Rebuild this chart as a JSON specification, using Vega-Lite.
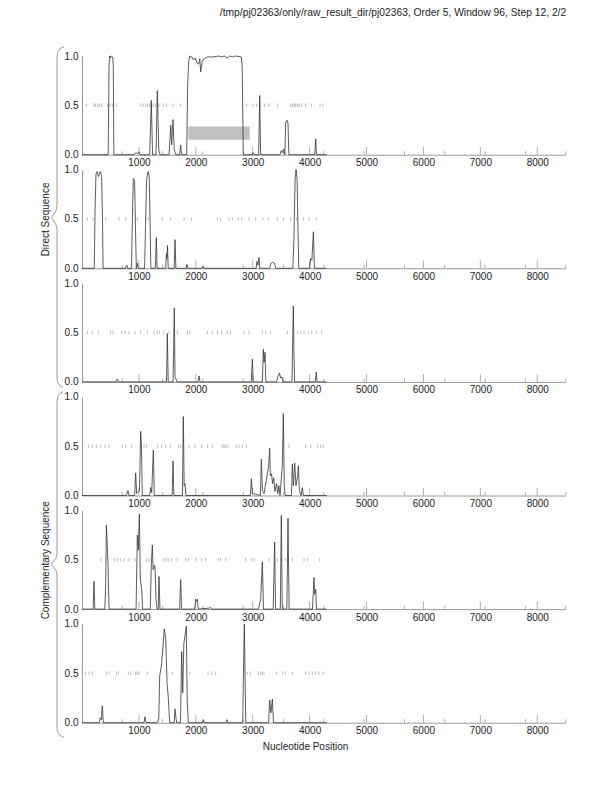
{
"$schema": "https://vega.github.io/schema/vega-lite/v6.json",
"padding": {"left": 40, "top": 8, "right": 5, "bottom": 5},
"title": {"text": "/tmp/pj02363/only/raw_result_dir/pj02363, Order 5, Window 96, Step 12, 2/2", "anchor": "end", "fontSize": 10.3, "fontWeight": "normal", "font": "Liberation Sans", "color": "#222", "offset": 26, "dx": 0},
"config": {"view": {"stroke": null}, "font": "Liberation Sans",
  "axis": {"labelFont": "Liberation Sans", "labelFontSize": 10, "labelColor": "#222", "domainColor": "#999", "ticks": false, "grid": false, "titleFont": "Liberation Sans", "titleFontSize": 10, "titleFontWeight": "normal", "titleColor": "#222"},
  "axisX": {"labelPadding": 3},
  "axisY": {"labelPadding": 4}},
"bounds": "flush",
"spacing": 14.6,
"datasets": {
"tickData": [{"x":1000,"h":0.078},{"x":2000,"h":0.078},{"x":3000,"h":0.078},{"x":4000,"h":0.078},{"x":5000,"h":0.078},{"x":6000,"h":0.078},{"x":7000,"h":0.078},{"x":8000,"h":0.078},
 {"x":708,"h":0.035},{"x":1417,"h":0.035},{"x":2125,"h":0.035},{"x":2833,"h":0.035},{"x":3542,"h":0.035},{"x":4250,"h":0.035},{"x":4958,"h":0.035},{"x":5667,"h":0.035},{"x":6375,"h":0.035},{"x":7083,"h":0.035},{"x":7792,"h":0.035},{"x":8500,"h":0.035}],
"boxData": [{"p":1,"x":1868,"x2":2947,"y":0.152,"y2":0.287}],
"braceData": [
 {"p":2,"o":1,"x":-316,"y":2.245},{"p":2,"o":2,"x":-387,"y":2.226},{"p":2,"o":3,"x":-422,"y":2.196},{"p":2,"o":4,"x":-439,"y":2.145},{"p":2,"o":5,"x":-439,"y":0.636},{"p":2,"o":6,"x":-457,"y":0.585},{"p":2,"o":7,"x":-510,"y":0.534},{"p":2,"o":8,"x":-545,"y":0.514},{"p":2,"o":9,"x":-510,"y":0.493},{"p":2,"o":10,"x":-457,"y":0.443},{"p":2,"o":11,"x":-439,"y":0.392},{"p":2,"o":12,"x":-439,"y":-1.118},{"p":2,"o":13,"x":-422,"y":-1.158},{"p":2,"o":14,"x":-387,"y":-1.189},{"p":2,"o":15,"x":-334,"y":-1.209},
 {"p":5,"o":1,"x":-334,"y":2.205},{"p":5,"o":2,"x":-387,"y":2.185},{"p":5,"o":3,"x":-422,"y":2.155},{"p":5,"o":4,"x":-439,"y":2.104},{"p":5,"o":5,"x":-439,"y":0.564},{"p":5,"o":6,"x":-457,"y":0.514},{"p":5,"o":7,"x":-510,"y":0.473},{"p":5,"o":8,"x":-545,"y":0.453},{"p":5,"o":9,"x":-510,"y":0.433},{"p":5,"o":10,"x":-457,"y":0.392},{"p":5,"o":11,"x":-439,"y":0.341},{"p":5,"o":12,"x":-439,"y":-1.209},{"p":5,"o":13,"x":-422,"y":-1.25},{"p":5,"o":14,"x":-387,"y":-1.28},{"p":5,"o":15,"x":-316,"y":-1.3}],
"stopData": [
 {"p":1,"x":76},{"p":1,"x":211},{"p":1,"x":240},{"p":1,"x":281},{"p":1,"x":310},{"p":1,"x":346},{"p":1,"x":451},{"p":1,"x":492},{"p":1,"x":533},{"p":1,"x":603},{"p":1,"x":1031},{"p":1,"x":1072},{"p":1,"x":1119},{"p":1,"x":1154},{"p":1,"x":1189},{"p":1,"x":1248},{"p":1,"x":1295},{"p":1,"x":1353},{"p":1,"x":1429},{"p":1,"x":1482},{"p":1,"x":1599},{"p":1,"x":1734},{"p":1,"x":2888},{"p":1,"x":3005},{"p":1,"x":3070},{"p":1,"x":3128},{"p":1,"x":3205},{"p":1,"x":3287},{"p":1,"x":3433},{"p":1,"x":3667},{"p":1,"x":3697},{"p":1,"x":3726},{"p":1,"x":3755},{"p":1,"x":3785},{"p":1,"x":3814},{"p":1,"x":3861},{"p":1,"x":3931},{"p":1,"x":4031},{"p":1,"x":4183},{"p":1,"x":4236},
 {"p":2,"x":94},{"p":2,"x":193},{"p":2,"x":416},{"p":2,"x":650},{"p":2,"x":767},{"p":2,"x":972},{"p":2,"x":1160},{"p":2,"x":1412},{"p":2,"x":1558},{"p":2,"x":1793},{"p":2,"x":1927},{"p":2,"x":2379},{"p":2,"x":2437},{"p":2,"x":2584},{"p":2,"x":2642},{"p":2,"x":2748},{"p":2,"x":2806},{"p":2,"x":2935},{"p":2,"x":3052},{"p":2,"x":3181},{"p":2,"x":3275},{"p":2,"x":3433},{"p":2,"x":3538},{"p":2,"x":3667},{"p":2,"x":3773},{"p":2,"x":3890},{"p":2,"x":3990},{"p":2,"x":4118},
 {"p":3,"x":94},{"p":3,"x":182},{"p":3,"x":287},{"p":3,"x":504},{"p":3,"x":545},{"p":3,"x":697},{"p":3,"x":756},{"p":3,"x":826},{"p":3,"x":931},{"p":3,"x":1031},{"p":3,"x":1148},{"p":3,"x":1265},{"p":3,"x":1324},{"p":3,"x":1365},{"p":3,"x":1441},{"p":3,"x":1529},{"p":3,"x":1675},{"p":3,"x":1851},{"p":3,"x":1892},{"p":3,"x":2203},{"p":3,"x":2291},{"p":3,"x":2379},{"p":3,"x":2455},{"p":3,"x":2554},{"p":3,"x":2613},{"p":3,"x":2847},{"p":3,"x":2935},{"p":3,"x":3169},{"p":3,"x":3228},{"p":3,"x":3316},{"p":3,"x":3609},{"p":3,"x":3784},{"p":3,"x":3843},{"p":3,"x":3902},{"p":3,"x":3978},{"p":3,"x":4036},{"p":3,"x":4118},{"p":3,"x":4212},
 {"p":4,"x":111},{"p":4,"x":182},{"p":4,"x":252},{"p":4,"x":328},{"p":4,"x":404},{"p":4,"x":475},{"p":4,"x":709},{"p":4,"x":767},{"p":4,"x":873},{"p":4,"x":1090},{"p":4,"x":1131},{"p":4,"x":1324},{"p":4,"x":1400},{"p":4,"x":1470},{"p":4,"x":1558},{"p":4,"x":1693},{"p":4,"x":1734},{"p":4,"x":1881},{"p":4,"x":1986},{"p":4,"x":2103},{"p":4,"x":2203},{"p":4,"x":2291},{"p":4,"x":2466},{"p":4,"x":2496},{"p":4,"x":2525},{"p":4,"x":2566},{"p":4,"x":2712},{"p":4,"x":2759},{"p":4,"x":2818},{"p":4,"x":2888},{"p":4,"x":3638},{"p":4,"x":3931},{"p":4,"x":4019},{"p":4,"x":4136},{"p":4,"x":4195},{"p":4,"x":4236},
 {"p":5,"x":328},{"p":5,"x":562},{"p":5,"x":621},{"p":5,"x":680},{"p":5,"x":738},{"p":5,"x":814},{"p":5,"x":931},{"p":5,"x":1131},{"p":5,"x":1178},{"p":5,"x":1441},{"p":5,"x":1482},{"p":5,"x":1517},{"p":5,"x":1576},{"p":5,"x":1675},{"p":5,"x":1822},{"p":5,"x":1869},{"p":5,"x":1998},{"p":5,"x":2103},{"p":5,"x":2173},{"p":5,"x":2396},{"p":5,"x":2437},{"p":5,"x":2525},{"p":5,"x":2876},{"p":5,"x":2982},{"p":5,"x":3023},{"p":5,"x":3287},{"p":5,"x":3433},{"p":5,"x":3509},{"p":5,"x":3579},{"p":5,"x":3697},{"p":5,"x":3902},{"p":5,"x":3960},{"p":5,"x":4177},
 {"p":6,"x":64},{"p":6,"x":123},{"p":6,"x":182},{"p":6,"x":428},{"p":6,"x":475},{"p":6,"x":603},{"p":6,"x":639},{"p":6,"x":814},{"p":6,"x":855},{"p":6,"x":943},{"p":6,"x":972},{"p":6,"x":1002},{"p":6,"x":1148},{"p":6,"x":1588},{"p":6,"x":1892},{"p":6,"x":2214},{"p":6,"x":2279},{"p":6,"x":2349},{"p":6,"x":2906},{"p":6,"x":2964},{"p":6,"x":3099},{"p":6,"x":3140},{"p":6,"x":3169},{"p":6,"x":3199},{"p":6,"x":3421},{"p":6,"x":3521},{"p":6,"x":3568},{"p":6,"x":3697},{"p":6,"x":3931},{"p":6,"x":3990},{"p":6,"x":4048},{"p":6,"x":4107},{"p":6,"x":4165},{"p":6,"x":4236}],
"curveData": [
 {"p":1,"x":0,"y":0},{"p":1,"x":460,"y":0},{"p":1,"x":475,"y":0.9},{"p":1,"x":485,"y":1.0},{"p":1,"x":500,"y":0.98},{"p":1,"x":515,"y":1.0},{"p":1,"x":540,"y":0.99},{"p":1,"x":550,"y":0.9},{"p":1,"x":560,"y":0},{"p":1,"x":900,"y":0},{"p":1,"x":950,"y":0.02},{"p":1,"x":980,"y":0.01},{"p":1,"x":1000,"y":0.03},{"p":1,"x":1020,"y":0},{"p":1,"x":1190,"y":0},{"p":1,"x":1218,"y":0.55},{"p":1,"x":1240,"y":0},{"p":1,"x":1300,"y":0},{"p":1,"x":1324,"y":0.65},{"p":1,"x":1350,"y":0.05},{"p":1,"x":1370,"y":0},{"p":1,"x":1530,"y":0},{"p":1,"x":1559,"y":0.3},{"p":1,"x":1575,"y":0.1},{"p":1,"x":1599,"y":0.355},{"p":1,"x":1620,"y":0.05},{"p":1,"x":1650,"y":0},{"p":1,"x":1715,"y":0},{"p":1,"x":1734,"y":0.1},{"p":1,"x":1750,"y":0},{"p":1,"x":1840,"y":0},{"p":1,"x":1857,"y":0.7},{"p":1,"x":1875,"y":0.95},{"p":1,"x":1893,"y":1.0},{"p":1,"x":1930,"y":0.99},{"p":1,"x":1960,"y":0.96},{"p":1,"x":1990,"y":0.98},{"p":1,"x":2020,"y":0.93},{"p":1,"x":2050,"y":0.92},{"p":1,"x":2070,"y":0.97},{"p":1,"x":2086,"y":0.84},{"p":1,"x":2100,"y":0.9},{"p":1,"x":2115,"y":0.95},{"p":1,"x":2140,"y":0.97},{"p":1,"x":2200,"y":0.99},{"p":1,"x":2300,"y":0.99},{"p":1,"x":2400,"y":1.0},{"p":1,"x":2450,"y":0.99},{"p":1,"x":2500,"y":1.0},{"p":1,"x":2550,"y":0.98},{"p":1,"x":2600,"y":1.0},{"p":1,"x":2650,"y":0.99},{"p":1,"x":2700,"y":1.0},{"p":1,"x":2800,"y":0.99},{"p":1,"x":2815,"y":0.9},{"p":1,"x":2835,"y":0},{"p":1,"x":2990,"y":0},{"p":1,"x":3005,"y":0.02},{"p":1,"x":3020,"y":0},{"p":1,"x":3105,"y":0},{"p":1,"x":3123,"y":0.6},{"p":1,"x":3140,"y":0},{"p":1,"x":3480,"y":0},{"p":1,"x":3500,"y":0.04},{"p":1,"x":3520,"y":0.02},{"p":1,"x":3545,"y":0.06},{"p":1,"x":3565,"y":0},{"p":1,"x":3580,"y":0.33},{"p":1,"x":3600,"y":0.35},{"p":1,"x":3620,"y":0.32},{"p":1,"x":3635,"y":0},{"p":1,"x":4090,"y":0},{"p":1,"x":4107,"y":0.16},{"p":1,"x":4120,"y":0},{"p":1,"x":4300,"y":0},
 {"p":2,"x":0,"y":0},{"p":2,"x":215,"y":0},{"p":2,"x":230,"y":0.6},{"p":2,"x":245,"y":0.95},{"p":2,"x":265,"y":0.98},{"p":2,"x":290,"y":0.93},{"p":2,"x":320,"y":0.98},{"p":2,"x":345,"y":0.94},{"p":2,"x":360,"y":0.5},{"p":2,"x":370,"y":0},{"p":2,"x":760,"y":0},{"p":2,"x":775,"y":0.02},{"p":2,"x":790,"y":0.03},{"p":2,"x":805,"y":0},{"p":2,"x":870,"y":0},{"p":2,"x":885,"y":0.5},{"p":2,"x":902,"y":0.91},{"p":2,"x":925,"y":0.88},{"p":2,"x":940,"y":0.4},{"p":2,"x":955,"y":0},{"p":2,"x":975,"y":0.05},{"p":2,"x":990,"y":0},{"p":2,"x":1100,"y":0},{"p":2,"x":1115,"y":0.4},{"p":2,"x":1135,"y":0.9},{"p":2,"x":1160,"y":0.98},{"p":2,"x":1180,"y":0.94},{"p":2,"x":1195,"y":0.5},{"p":2,"x":1210,"y":0},{"p":2,"x":1290,"y":0},{"p":2,"x":1306,"y":0.31},{"p":2,"x":1320,"y":0},{"p":2,"x":1470,"y":0},{"p":2,"x":1485,"y":0.15},{"p":2,"x":1492,"y":0.1},{"p":2,"x":1503,"y":0.23},{"p":2,"x":1515,"y":0},{"p":2,"x":1620,"y":0},{"p":2,"x":1635,"y":0.29},{"p":2,"x":1650,"y":0},{"p":2,"x":1830,"y":0},{"p":2,"x":1845,"y":0.04},{"p":2,"x":1860,"y":0},{"p":2,"x":2110,"y":0},{"p":2,"x":2125,"y":0.02},{"p":2,"x":2140,"y":0},{"p":2,"x":3060,"y":0},{"p":2,"x":3075,"y":0.07},{"p":2,"x":3090,"y":0.03},{"p":2,"x":3111,"y":0.11},{"p":2,"x":3125,"y":0},{"p":2,"x":3300,"y":0},{"p":2,"x":3316,"y":0.05},{"p":2,"x":3350,"y":0.06},{"p":2,"x":3385,"y":0.05},{"p":2,"x":3404,"y":0},{"p":2,"x":3705,"y":0},{"p":2,"x":3725,"y":0.3},{"p":2,"x":3745,"y":0.9},{"p":2,"x":3762,"y":1.0},{"p":2,"x":3780,"y":0.9},{"p":2,"x":3795,"y":0.4},{"p":2,"x":3810,"y":0},{"p":2,"x":4000,"y":0},{"p":2,"x":4019,"y":0.1},{"p":2,"x":4040,"y":0.08},{"p":2,"x":4066,"y":0.37},{"p":2,"x":4085,"y":0},{"p":2,"x":4300,"y":0},
 {"p":3,"x":0,"y":0},{"p":3,"x":600,"y":0},{"p":3,"x":621,"y":0.03},{"p":3,"x":640,"y":0},{"p":3,"x":1485,"y":0},{"p":3,"x":1500,"y":0.49},{"p":3,"x":1515,"y":0},{"p":3,"x":1600,"y":0},{"p":3,"x":1610,"y":0.33},{"p":3,"x":1622,"y":0.75},{"p":3,"x":1635,"y":0.05},{"p":3,"x":1650,"y":0.03},{"p":3,"x":1670,"y":0},{"p":3,"x":2040,"y":0},{"p":3,"x":2056,"y":0.06},{"p":3,"x":2075,"y":0},{"p":3,"x":2975,"y":0},{"p":3,"x":2994,"y":0.23},{"p":3,"x":3010,"y":0},{"p":3,"x":3170,"y":0},{"p":3,"x":3187,"y":0.33},{"p":3,"x":3200,"y":0.2},{"p":3,"x":3216,"y":0.3},{"p":3,"x":3230,"y":0},{"p":3,"x":3420,"y":0},{"p":3,"x":3440,"y":0.05},{"p":3,"x":3470,"y":0.09},{"p":3,"x":3490,"y":0.04},{"p":3,"x":3515,"y":0.05},{"p":3,"x":3530,"y":0},{"p":3,"x":3690,"y":0},{"p":3,"x":3705,"y":0.5},{"p":3,"x":3714,"y":0.77},{"p":3,"x":3725,"y":0.3},{"p":3,"x":3735,"y":0},{"p":3,"x":4100,"y":0},{"p":3,"x":4118,"y":0.1},{"p":3,"x":4130,"y":0},{"p":3,"x":4300,"y":0},
 {"p":4,"x":0,"y":0},{"p":4,"x":780,"y":0},{"p":4,"x":808,"y":0.05},{"p":4,"x":825,"y":0},{"p":4,"x":925,"y":0},{"p":4,"x":943,"y":0.23},{"p":4,"x":960,"y":0.02},{"p":4,"x":1010,"y":0.05},{"p":4,"x":1031,"y":0.65},{"p":4,"x":1045,"y":0.5},{"p":4,"x":1060,"y":0},{"p":4,"x":1190,"y":0},{"p":4,"x":1207,"y":0.08},{"p":4,"x":1225,"y":0.03},{"p":4,"x":1254,"y":0.46},{"p":4,"x":1270,"y":0},{"p":4,"x":1585,"y":0},{"p":4,"x":1599,"y":0.35},{"p":4,"x":1615,"y":0},{"p":4,"x":1765,"y":0},{"p":4,"x":1781,"y":0.8},{"p":4,"x":1795,"y":0.1},{"p":4,"x":1810,"y":0.12},{"p":4,"x":1825,"y":0},{"p":4,"x":2960,"y":0},{"p":4,"x":2976,"y":0.17},{"p":4,"x":2995,"y":0.02},{"p":4,"x":3135,"y":0},{"p":4,"x":3152,"y":0.37},{"p":4,"x":3170,"y":0.05},{"p":4,"x":3200,"y":0.02},{"p":4,"x":3280,"y":0.3},{"p":4,"x":3298,"y":0.48},{"p":4,"x":3310,"y":0.2},{"p":4,"x":3330,"y":0.22},{"p":4,"x":3350,"y":0.12},{"p":4,"x":3370,"y":0.18},{"p":4,"x":3390,"y":0.04},{"p":4,"x":3420,"y":0.12},{"p":4,"x":3440,"y":0.02},{"p":4,"x":3460,"y":0.1},{"p":4,"x":3480,"y":0},{"p":4,"x":3520,"y":0.3},{"p":4,"x":3538,"y":0.83},{"p":4,"x":3555,"y":0.1},{"p":4,"x":3570,"y":0},{"p":4,"x":3680,"y":0},{"p":4,"x":3697,"y":0.32},{"p":4,"x":3715,"y":0.1},{"p":4,"x":3738,"y":0.33},{"p":4,"x":3760,"y":0.1},{"p":4,"x":3790,"y":0.2},{"p":4,"x":3802,"y":0.3},{"p":4,"x":3820,"y":0.05},{"p":4,"x":3850,"y":0},{"p":4,"x":3872,"y":0.08},{"p":4,"x":3890,"y":0},{"p":4,"x":4300,"y":0},
 {"p":5,"x":0,"y":0},{"p":5,"x":195,"y":0},{"p":5,"x":211,"y":0.28},{"p":5,"x":225,"y":0},{"p":5,"x":400,"y":0},{"p":5,"x":415,"y":0.2},{"p":5,"x":428,"y":0.85},{"p":5,"x":440,"y":0.7},{"p":5,"x":457,"y":0.45},{"p":5,"x":475,"y":0},{"p":5,"x":950,"y":0},{"p":5,"x":973,"y":0.75},{"p":5,"x":990,"y":0.6},{"p":5,"x":1008,"y":0.96},{"p":5,"x":1025,"y":0.3},{"p":5,"x":1049,"y":0.2},{"p":5,"x":1065,"y":0},{"p":5,"x":1200,"y":0},{"p":5,"x":1218,"y":0.45},{"p":5,"x":1236,"y":0.65},{"p":5,"x":1250,"y":0.4},{"p":5,"x":1265,"y":0.44},{"p":5,"x":1283,"y":0.44},{"p":5,"x":1300,"y":0.1},{"p":5,"x":1320,"y":0},{"p":5,"x":1340,"y":0},{"p":5,"x":1353,"y":0.33},{"p":5,"x":1370,"y":0},{"p":5,"x":1715,"y":0},{"p":5,"x":1734,"y":0.3},{"p":5,"x":1750,"y":0},{"p":5,"x":1980,"y":0},{"p":5,"x":1998,"y":0.1},{"p":5,"x":2015,"y":0.08},{"p":5,"x":2027,"y":0.1},{"p":5,"x":2045,"y":0},{"p":5,"x":2240,"y":0.01},{"p":5,"x":2260,"y":0.02},{"p":5,"x":2280,"y":0},{"p":5,"x":3100,"y":0},{"p":5,"x":3140,"y":0.1},{"p":5,"x":3169,"y":0.48},{"p":5,"x":3190,"y":0},{"p":5,"x":3360,"y":0},{"p":5,"x":3386,"y":0.68},{"p":5,"x":3400,"y":0},{"p":5,"x":3485,"y":0},{"p":5,"x":3503,"y":0.95},{"p":5,"x":3520,"y":0},{"p":5,"x":3600,"y":0},{"p":5,"x":3620,"y":0.92},{"p":5,"x":3640,"y":0},{"p":5,"x":4050,"y":0},{"p":5,"x":4077,"y":0.32},{"p":5,"x":4090,"y":0.15},{"p":5,"x":4107,"y":0.2},{"p":5,"x":4120,"y":0},{"p":5,"x":4300,"y":0},
 {"p":6,"x":0,"y":0},{"p":6,"x":300,"y":0},{"p":6,"x":320,"y":0.05},{"p":6,"x":340,"y":0.03},{"p":6,"x":357,"y":0.17},{"p":6,"x":375,"y":0},{"p":6,"x":1090,"y":0},{"p":6,"x":1107,"y":0.06},{"p":6,"x":1125,"y":0},{"p":6,"x":1330,"y":0},{"p":6,"x":1350,"y":0.05},{"p":6,"x":1365,"y":0.47},{"p":6,"x":1400,"y":0.6},{"p":6,"x":1447,"y":0.95},{"p":6,"x":1471,"y":0.85},{"p":6,"x":1495,"y":0.4},{"p":6,"x":1517,"y":0.25},{"p":6,"x":1540,"y":0},{"p":6,"x":1620,"y":0},{"p":6,"x":1635,"y":0.14},{"p":6,"x":1650,"y":0.05},{"p":6,"x":1665,"y":0},{"p":6,"x":1730,"y":0},{"p":6,"x":1752,"y":0.72},{"p":6,"x":1770,"y":0.3},{"p":6,"x":1790,"y":0.8},{"p":6,"x":1833,"y":0.98},{"p":6,"x":1850,"y":0.2},{"p":6,"x":1870,"y":0},{"p":6,"x":2120,"y":0},{"p":6,"x":2135,"y":0.03},{"p":6,"x":2150,"y":0},{"p":6,"x":2530,"y":0},{"p":6,"x":2545,"y":0.03},{"p":6,"x":2560,"y":0},{"p":6,"x":2825,"y":0},{"p":6,"x":2840,"y":0.6},{"p":6,"x":2853,"y":1.0},{"p":6,"x":2865,"y":0.5},{"p":6,"x":2878,"y":0},{"p":6,"x":3280,"y":0},{"p":6,"x":3298,"y":0.23},{"p":6,"x":3320,"y":0.1},{"p":6,"x":3345,"y":0.24},{"p":6,"x":3365,"y":0},{"p":6,"x":4300,"y":0}]
},
"vconcat": [
 {"width": 483.7, "height": 98.7, "layer": [
  {"data": {"name": "boxData"}, "mark": {"type": "rect", "color": "#c0c0c0"}, "encoding": {"x": {"field": "x", "type": "quantitative", "scale": {"domain": [0, 8500], "nice": false, "zero": false, "padding": 0}, "axis": {"title": null, "values": [1000,2000,3000,4000,5000,6000,7000,8000], "format": "d"}}, "x2": {"field": "x2"}, "y": {"field": "y", "type": "quantitative", "scale": {"domain": [0, 1], "nice": false, "zero": false, "padding": 0}, "axis": {"title": null, "values": [0, 0.5, 1], "format": ".1f"}}, "y2": {"field": "y2"}}},
  {"data": {"name": "tickData"}, "mark": {"type": "bar", "color": "#b0b0b0", "width": 1}, "encoding": {"x": {"field": "x", "type": "quantitative", "axis": {"title": null, "values": [1000,2000,3000,4000,5000,6000,7000,8000], "format": "d"}}, "y": {"field": "h", "type": "quantitative", "axis": {"title": null, "values": [0, 0.5, 1], "format": ".1f"}}}},
  {"data": {"name": "stopData"}, "transform": [{"filter": "datum.p==1"}], "mark": {"type": "tick", "color": "#a0a0a0", "orient": "vertical", "size": 3.5, "thickness": 1}, "encoding": {"x": {"field": "x", "type": "quantitative", "axis": {"title": null, "values": [1000,2000,3000,4000,5000,6000,7000,8000], "format": "d"}}, "y": {"datum": 0.5, "type": "quantitative", "axis": {"title": null, "values": [0, 0.5, 1], "format": ".1f"}}}},
  {"data": {"name": "curveData"}, "transform": [{"filter": "datum.p==1"}], "mark": {"type": "line", "color": "#333", "strokeWidth": 0.8}, "encoding": {"x": {"field": "x", "type": "quantitative", "axis": {"title": null, "values": [1000,2000,3000,4000,5000,6000,7000,8000], "format": "d"}}, "y": {"field": "y", "type": "quantitative", "axis": {"title": null, "values": [0, 0.5, 1], "format": ".1f"}}}}
 ]},
 {"width": 483.7, "height": 98.7, "layer": [
  {"data": {"name": "braceData"}, "transform": [{"filter": "datum.p==2"}], "mark": {"type": "line", "color": "#999", "strokeWidth": 1}, "encoding": {"x": {"field": "x", "type": "quantitative", "scale": {"domain": [0, 8500], "nice": false, "zero": false, "padding": 0}, "axis": {"title": null, "values": [1000,2000,3000,4000,5000,6000,7000,8000], "format": "d"}}, "y": {"field": "y", "type": "quantitative", "scale": {"domain": [0, 1], "nice": false, "zero": false, "padding": 0}, "axis": {"title": "Direct Sequence", "titlePadding": 14, "values": [0, 0.5, 1], "format": ".1f"}}, "order": {"field": "o", "type": "quantitative"}}},
  {"data": {"name": "tickData"}, "mark": {"type": "bar", "color": "#b0b0b0", "width": 1}, "encoding": {"x": {"field": "x", "type": "quantitative", "axis": {"title": null, "values": [1000,2000,3000,4000,5000,6000,7000,8000], "format": "d"}}, "y": {"field": "h", "type": "quantitative", "axis": {"title": "Direct Sequence", "titlePadding": 14, "values": [0, 0.5, 1], "format": ".1f"}}}},
  {"data": {"name": "stopData"}, "transform": [{"filter": "datum.p==2"}], "mark": {"type": "tick", "color": "#a0a0a0", "orient": "vertical", "size": 3.5, "thickness": 1}, "encoding": {"x": {"field": "x", "type": "quantitative", "axis": {"title": null, "values": [1000,2000,3000,4000,5000,6000,7000,8000], "format": "d"}}, "y": {"datum": 0.5, "type": "quantitative", "axis": {"title": "Direct Sequence", "titlePadding": 14, "values": [0, 0.5, 1], "format": ".1f"}}}},
  {"data": {"name": "curveData"}, "transform": [{"filter": "datum.p==2"}], "mark": {"type": "line", "color": "#333", "strokeWidth": 0.8}, "encoding": {"x": {"field": "x", "type": "quantitative", "axis": {"title": null, "values": [1000,2000,3000,4000,5000,6000,7000,8000], "format": "d"}}, "y": {"field": "y", "type": "quantitative", "axis": {"title": "Direct Sequence", "titlePadding": 14, "values": [0, 0.5, 1], "format": ".1f"}}}}
 ]},
 {"width": 483.7, "height": 98.7, "layer": [
  {"data": {"name": "tickData"}, "mark": {"type": "bar", "color": "#b0b0b0", "width": 1}, "encoding": {"x": {"field": "x", "type": "quantitative", "scale": {"domain": [0, 8500], "nice": false, "zero": false, "padding": 0}, "axis": {"title": null, "values": [1000,2000,3000,4000,5000,6000,7000,8000], "format": "d"}}, "y": {"field": "h", "type": "quantitative", "scale": {"domain": [0, 1], "nice": false, "zero": false, "padding": 0}, "axis": {"title": null, "values": [0, 0.5, 1], "format": ".1f"}}}},
  {"data": {"name": "stopData"}, "transform": [{"filter": "datum.p==3"}], "mark": {"type": "tick", "color": "#a0a0a0", "orient": "vertical", "size": 3.5, "thickness": 1}, "encoding": {"x": {"field": "x", "type": "quantitative", "axis": {"title": null, "values": [1000,2000,3000,4000,5000,6000,7000,8000], "format": "d"}}, "y": {"datum": 0.5, "type": "quantitative", "axis": {"title": null, "values": [0, 0.5, 1], "format": ".1f"}}}},
  {"data": {"name": "curveData"}, "transform": [{"filter": "datum.p==3"}], "mark": {"type": "line", "color": "#333", "strokeWidth": 0.8}, "encoding": {"x": {"field": "x", "type": "quantitative", "axis": {"title": null, "values": [1000,2000,3000,4000,5000,6000,7000,8000], "format": "d"}}, "y": {"field": "y", "type": "quantitative", "axis": {"title": null, "values": [0, 0.5, 1], "format": ".1f"}}}}
 ]},
 {"width": 483.7, "height": 98.7, "layer": [
  {"data": {"name": "tickData"}, "mark": {"type": "bar", "color": "#b0b0b0", "width": 1}, "encoding": {"x": {"field": "x", "type": "quantitative", "scale": {"domain": [0, 8500], "nice": false, "zero": false, "padding": 0}, "axis": {"title": null, "values": [1000,2000,3000,4000,5000,6000,7000,8000], "format": "d"}}, "y": {"field": "h", "type": "quantitative", "scale": {"domain": [0, 1], "nice": false, "zero": false, "padding": 0}, "axis": {"title": null, "values": [0, 0.5, 1], "format": ".1f"}}}},
  {"data": {"name": "stopData"}, "transform": [{"filter": "datum.p==4"}], "mark": {"type": "tick", "color": "#a0a0a0", "orient": "vertical", "size": 3.5, "thickness": 1}, "encoding": {"x": {"field": "x", "type": "quantitative", "axis": {"title": null, "values": [1000,2000,3000,4000,5000,6000,7000,8000], "format": "d"}}, "y": {"datum": 0.5, "type": "quantitative", "axis": {"title": null, "values": [0, 0.5, 1], "format": ".1f"}}}},
  {"data": {"name": "curveData"}, "transform": [{"filter": "datum.p==4"}], "mark": {"type": "line", "color": "#333", "strokeWidth": 0.8}, "encoding": {"x": {"field": "x", "type": "quantitative", "axis": {"title": null, "values": [1000,2000,3000,4000,5000,6000,7000,8000], "format": "d"}}, "y": {"field": "y", "type": "quantitative", "axis": {"title": null, "values": [0, 0.5, 1], "format": ".1f"}}}}
 ]},
 {"width": 483.7, "height": 98.7, "layer": [
  {"data": {"name": "braceData"}, "transform": [{"filter": "datum.p==5"}], "mark": {"type": "line", "color": "#999", "strokeWidth": 1}, "encoding": {"x": {"field": "x", "type": "quantitative", "scale": {"domain": [0, 8500], "nice": false, "zero": false, "padding": 0}, "axis": {"title": null, "values": [1000,2000,3000,4000,5000,6000,7000,8000], "format": "d"}}, "y": {"field": "y", "type": "quantitative", "scale": {"domain": [0, 1], "nice": false, "zero": false, "padding": 0}, "axis": {"title": "Complementary Sequence", "titlePadding": 14, "values": [0, 0.5, 1], "format": ".1f"}}, "order": {"field": "o", "type": "quantitative"}}},
  {"data": {"name": "tickData"}, "mark": {"type": "bar", "color": "#b0b0b0", "width": 1}, "encoding": {"x": {"field": "x", "type": "quantitative", "axis": {"title": null, "values": [1000,2000,3000,4000,5000,6000,7000,8000], "format": "d"}}, "y": {"field": "h", "type": "quantitative", "axis": {"title": "Complementary Sequence", "titlePadding": 14, "values": [0, 0.5, 1], "format": ".1f"}}}},
  {"data": {"name": "stopData"}, "transform": [{"filter": "datum.p==5"}], "mark": {"type": "tick", "color": "#a0a0a0", "orient": "vertical", "size": 3.5, "thickness": 1}, "encoding": {"x": {"field": "x", "type": "quantitative", "axis": {"title": null, "values": [1000,2000,3000,4000,5000,6000,7000,8000], "format": "d"}}, "y": {"datum": 0.5, "type": "quantitative", "axis": {"title": "Complementary Sequence", "titlePadding": 14, "values": [0, 0.5, 1], "format": ".1f"}}}},
  {"data": {"name": "curveData"}, "transform": [{"filter": "datum.p==5"}], "mark": {"type": "line", "color": "#333", "strokeWidth": 0.8}, "encoding": {"x": {"field": "x", "type": "quantitative", "axis": {"title": null, "values": [1000,2000,3000,4000,5000,6000,7000,8000], "format": "d"}}, "y": {"field": "y", "type": "quantitative", "axis": {"title": "Complementary Sequence", "titlePadding": 14, "values": [0, 0.5, 1], "format": ".1f"}}}}
 ]},
 {"width": 483.7, "height": 98.7, "layer": [
  {"data": {"name": "tickData"}, "mark": {"type": "bar", "color": "#b0b0b0", "width": 1}, "encoding": {"x": {"field": "x", "type": "quantitative", "scale": {"domain": [0, 8500], "nice": false, "zero": false, "padding": 0}, "axis": {"title": "Nucleotide Position", "titlePadding": 6, "titleX": 223, "values": [1000,2000,3000,4000,5000,6000,7000,8000], "format": "d"}}, "y": {"field": "h", "type": "quantitative", "scale": {"domain": [0, 1], "nice": false, "zero": false, "padding": 0}, "axis": {"title": null, "values": [0, 0.5, 1], "format": ".1f"}}}},
  {"data": {"name": "stopData"}, "transform": [{"filter": "datum.p==6"}], "mark": {"type": "tick", "color": "#a0a0a0", "orient": "vertical", "size": 3.5, "thickness": 1}, "encoding": {"x": {"field": "x", "type": "quantitative", "axis": {"title": "Nucleotide Position", "titlePadding": 6, "titleX": 223, "values": [1000,2000,3000,4000,5000,6000,7000,8000], "format": "d"}}, "y": {"datum": 0.5, "type": "quantitative", "axis": {"title": null, "values": [0, 0.5, 1], "format": ".1f"}}}},
  {"data": {"name": "curveData"}, "transform": [{"filter": "datum.p==6"}], "mark": {"type": "line", "color": "#333", "strokeWidth": 0.8}, "encoding": {"x": {"field": "x", "type": "quantitative", "axis": {"title": "Nucleotide Position", "titlePadding": 6, "titleX": 223, "values": [1000,2000,3000,4000,5000,6000,7000,8000], "format": "d"}}, "y": {"field": "y", "type": "quantitative", "axis": {"title": null, "values": [0, 0.5, 1], "format": ".1f"}}}}
 ]}
]
}
